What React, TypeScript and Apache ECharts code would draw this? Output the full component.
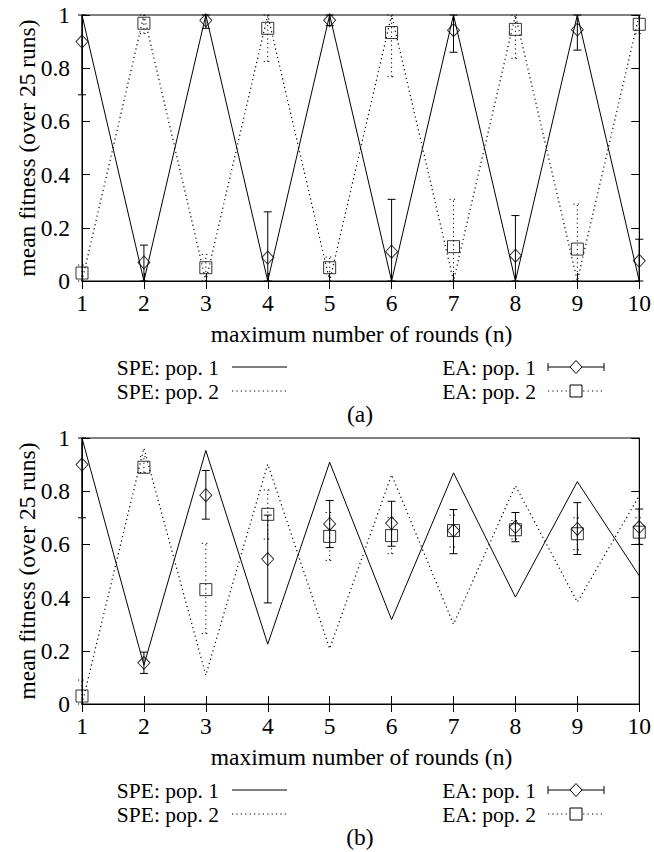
import React, { useEffect, useRef } from "react";
import * as echarts from "echarts";

const rounds = [1, 2, 3, 4, 5, 6, 7, 8, 9, 10];
const yTicks = [0, 0.2, 0.4, 0.6, 0.8, 1];

// (a)
const speA1 = [1, 0, 1, 0, 1, 0, 1, 0, 1, 0];
const speA2 = [0, 1, 0, 1, 0, 1, 0, 1, 0, 1];
const eaA1 = [0.9, 0.07, 0.98, 0.088, 0.98, 0.11, 0.943, 0.095, 0.945, 0.076];
const eaA1Lo = [0.7, 0, 0.95, 0, 0.96, 0, 0.86, 0, 0.868, 0];
const eaA1Hi = [1, 0.135, 1, 0.26, 1, 0.307, 1, 0.246, 1, 0.157];
const eaA2 = [0.03, 0.969, 0.05, 0.95, 0.05, 0.934, 0.129, 0.946, 0.12, 0.965];
const eaA2Lo = [0, 0.93, 0, 0.825, 0, 0.768, 0, 0.837, 0, 0.93];
const eaA2Hi = [0.06, 1, 0.1, 1, 0.09, 1, 0.307, 1, 0.289, 1];

// (b)
const speB1 = [1, 0.146, 0.953, 0.225, 0.909, 0.317, 0.869, 0.402, 0.836, 0.482];
const speB2 = [0, 0.962, 0.108, 0.902, 0.208, 0.862, 0.3, 0.821, 0.383, 0.783];
const eaB1 = [0.9, 0.155, 0.785, 0.545, 0.677, 0.68, 0.652, 0.665, 0.658, 0.665];
const eaB1Lo = [0.7, 0.115, 0.695, 0.38, 0.588, 0.593, 0.565, 0.61, 0.562, 0.6];
const eaB1Hi = [1, 0.195, 0.878, 0.71, 0.765, 0.762, 0.731, 0.72, 0.757, 0.733];
const eaB2 = [0.03, 0.89, 0.43, 0.713, 0.63, 0.633, 0.652, 0.655, 0.64, 0.646];
const eaB2Lo = [0, 0.87, 0.265, 0.62, 0.54, 0.565, 0.59, 0.62, 0.58, 0.6];
const eaB2Hi = [0.09, 0.93, 0.604, 0.805, 0.72, 0.7, 0.71, 0.69, 0.7, 0.7];

const yTitle = "mean fitness (over 25 runs)";
const xTitle = "maximum number of rounds (n)";
const legendLabels = ["SPE: pop. 1", "SPE: pop. 2", "EA: pop. 1", "EA: pop. 2"];
const captions = ["(a)", "(b)"];

const FONT = "Liberation Serif";
const FS = 23.5;
const LFS = 21.5;
const DOT = [1.2, 3.2];

const GRID_LEFT = 82;
const GRID_W = 559;
const GRID_H = 266;
const GRID_TOPS = [15, 438];

function zip(a: number[]) {
  return rounds.map((x, i) => [x, a[i]]);
}
function zip3(m: number[], lo: number[], hi: number[]) {
  return rounds.map((x, i) => [x, lo[i], hi[i], m[i]]);
}

function errRender(dashed: boolean) {
  return (params: any, api: any) => {
    const x = api.value(0);
    const lo = api.coord([x, api.value(1)]);
    const hi = api.coord([x, api.value(2)]);
    const w = 4;
    const style: any = { stroke: "#000", lineWidth: 1, fill: "none" };
    if (dashed) style.lineDash = DOT;
    return {
      type: "group",
      children: [
        { type: "line", shape: { x1: lo[0], y1: lo[1], x2: hi[0], y2: hi[1] }, style },
        { type: "line", shape: { x1: lo[0] - w, y1: lo[1], x2: lo[0] + w, y2: lo[1] }, style },
        { type: "line", shape: { x1: hi[0] - w, y1: hi[1], x2: hi[0] + w, y2: hi[1] }, style },
      ],
    };
  };
}

export default function App() {
  const ref = useRef<HTMLDivElement>(null);
  useEffect(() => {
    if (!ref.current) return;
    const chart = echarts.init(ref.current, null, { renderer: "svg" });

    const xAxes: any[] = [];
    const yAxes: any[] = [];
    const series: any[] = [];
    const graphics: any[] = [];

    const tickStyle = { color: "#000", width: 1 };
    const labelStyle = { fontFamily: FONT, fontSize: FS, color: "#000" };

    const sets = [
      { s1: speA1, s2: speA2, e1: eaA1, e1l: eaA1Lo, e1h: eaA1Hi, e2: eaA2, e2l: eaA2Lo, e2h: eaA2Hi },
      { s1: speB1, s2: speB2, e1: eaB1, e1l: eaB1Lo, e1h: eaB1Hi, e2: eaB2, e2l: eaB2Lo, e2h: eaB2Hi },
    ];

    sets.forEach((d, g) => {
      const base = {
        gridIndex: g,
        type: "value",
        min: 1,
        max: 10,
        interval: 1,
        axisLine: { show: true, lineStyle: { color: "#000", width: 1 } },
        axisTick: { show: true, inside: true, length: 8, lineStyle: tickStyle },
        splitLine: { show: false },
      };
      xAxes.push({ ...base, position: "bottom", axisLabel: { ...labelStyle, margin: 10 } });
      xAxes.push({ ...base, position: "top", axisLabel: { show: false } });
      const ybase = {
        gridIndex: g,
        type: "value",
        min: 0,
        max: 1,
        interval: 0.2,
        axisLine: { show: true, lineStyle: { color: "#000", width: 1 } },
        axisTick: { show: true, inside: true, length: 8, lineStyle: tickStyle },
        splitLine: { show: false },
      };
      yAxes.push({
        ...ybase,
        position: "left",
        axisLabel: {
          ...labelStyle,
          margin: 12,
          formatter: (v: number) => {
            const t = yTicks.find((k) => Math.abs(k - v) < 1e-6);
            return t === undefined ? "" : String(t);
          },
        },
      });
      yAxes.push({ ...ybase, position: "right", axisLabel: { show: false } });

      const xi = g * 2;
      const yi = g * 2;
      series.push({
        type: "line",
        xAxisIndex: xi,
        yAxisIndex: yi,
        data: zip(d.s1),
        symbol: "none",
        lineStyle: { color: "#000", width: 1 },
        z: 2,
      });
      series.push({
        type: "line",
        xAxisIndex: xi,
        yAxisIndex: yi,
        data: zip(d.s2),
        symbol: "none",
        lineStyle: { color: "#000", width: 1.2, type: DOT },
        z: 2,
      });
      series.push({
        type: "custom",
        xAxisIndex: xi,
        yAxisIndex: yi,
        data: zip3(d.e1, d.e1l, d.e1h),
        encode: { x: 0, y: [1, 2] },
        renderItem: errRender(false),
        z: 3,
      });
      series.push({
        type: "custom",
        xAxisIndex: xi,
        yAxisIndex: yi,
        data: zip3(d.e2, d.e2l, d.e2h),
        encode: { x: 0, y: [1, 2] },
        renderItem: errRender(true),
        z: 3,
      });
      series.push({
        type: "scatter",
        xAxisIndex: xi,
        yAxisIndex: yi,
        data: zip(d.e1),
        symbol: "diamond",
        symbolSize: [12, 13],
        itemStyle: { color: "rgba(0,0,0,0)", borderColor: "#000", borderWidth: 1 },
        z: 4,
      });
      series.push({
        type: "scatter",
        xAxisIndex: xi,
        yAxisIndex: yi,
        data: zip(d.e2),
        symbol: "rect",
        symbolSize: [12, 12],
        itemStyle: { color: "rgba(0,0,0,0)", borderColor: "#000", borderWidth: 1 },
        z: 4,
      });

      const top = GRID_TOPS[g];
      const bottom = top + GRID_H;
      const cx = GRID_LEFT + GRID_W / 2;
      const tstyle = { fontFamily: FONT, fontSize: FS, fill: "#000" };
      const lstyle = { fontFamily: FONT, fontSize: LFS, fill: "#000" };

      graphics.push({
        type: "text",
        x: 27,
        y: top + GRID_H / 2,
        rotation: Math.PI / 2,
        style: { ...tstyle, text: yTitle, align: "center", verticalAlign: "middle" },
      });
      graphics.push({
        type: "text",
        x: cx,
        y: bottom + 53,
        style: { ...tstyle, text: xTitle, align: "center", verticalAlign: "middle" },
      });
      graphics.push({
        type: "text",
        x: 360,
        y: bottom + 133,
        style: { ...tstyle, text: captions[g], align: "center", verticalAlign: "middle" },
      });

      const r1 = bottom + 87;
      const r2 = bottom + 111;
      graphics.push({ type: "text", x: 219, y: r1, style: { ...lstyle, text: legendLabels[0], align: "right", verticalAlign: "middle" } });
      graphics.push({ type: "text", x: 219, y: r2, style: { ...lstyle, text: legendLabels[1], align: "right", verticalAlign: "middle" } });
      graphics.push({ type: "text", x: 536, y: r1, style: { ...lstyle, text: legendLabels[2], align: "right", verticalAlign: "middle" } });
      graphics.push({ type: "text", x: 536, y: r2, style: { ...lstyle, text: legendLabels[3], align: "right", verticalAlign: "middle" } });
      const ly1 = r1 - 1;
      const ly2 = r2 - 1;
      // SPE samples
      graphics.push({ type: "line", shape: { x1: 232, y1: ly1, x2: 287, y2: ly1 }, style: { stroke: "#000", lineWidth: 1 } });
      graphics.push({ type: "line", shape: { x1: 232, y1: ly2, x2: 287, y2: ly2 }, style: { stroke: "#000", lineWidth: 1.2, lineDash: DOT } });
      // EA pop 1 sample
      const ex1 = 548;
      const ex2 = 604;
      const ec = (ex1 + ex2) / 2;
      graphics.push({ type: "line", shape: { x1: ex1, y1: ly1, x2: ex2, y2: ly1 }, style: { stroke: "#000", lineWidth: 1 } });
      graphics.push({ type: "line", shape: { x1: ex1, y1: ly1 - 4, x2: ex1, y2: ly1 + 4 }, style: { stroke: "#000", lineWidth: 1 } });
      graphics.push({ type: "line", shape: { x1: ex2, y1: ly1 - 4, x2: ex2, y2: ly1 + 4 }, style: { stroke: "#000", lineWidth: 1 } });
      graphics.push({
        type: "polygon",
        shape: { points: [[ec, ly1 - 6.5], [ec + 6, ly1], [ec, ly1 + 6.5], [ec - 6, ly1]] },
        style: { fill: "#fff", stroke: "#000", lineWidth: 1 },
      });
      // EA pop 2 sample
      graphics.push({ type: "line", shape: { x1: ex1, y1: ly2, x2: ex2, y2: ly2 }, style: { stroke: "#000", lineWidth: 1.2, lineDash: DOT } });
      graphics.push({
        type: "rect",
        shape: { x: ec - 6, y: ly2 - 6, width: 12, height: 12 },
        style: { fill: "#fff", stroke: "#000", lineWidth: 1 },
      });
    });

    chart.setOption({
      animation: false,
      backgroundColor: "#fff",
      textStyle: { fontFamily: FONT },
      grid: GRID_TOPS.map((t) => ({
        left: GRID_LEFT,
        top: t,
        width: GRID_W,
        height: GRID_H,
        show: true,
        borderColor: "#000",
        borderWidth: 1,
        backgroundColor: "rgba(0,0,0,0)",
        containLabel: false,
      })),
      xAxis: xAxes,
      yAxis: yAxes,
      series,
      graphic: graphics,
    });
    return () => chart.dispose();
  }, []);
  return (
    <div
      ref={ref}
      style={{ position: "absolute", left: 0, top: 0, width: 654, height: 852, background: "#fff" }}
    />
  );
}
